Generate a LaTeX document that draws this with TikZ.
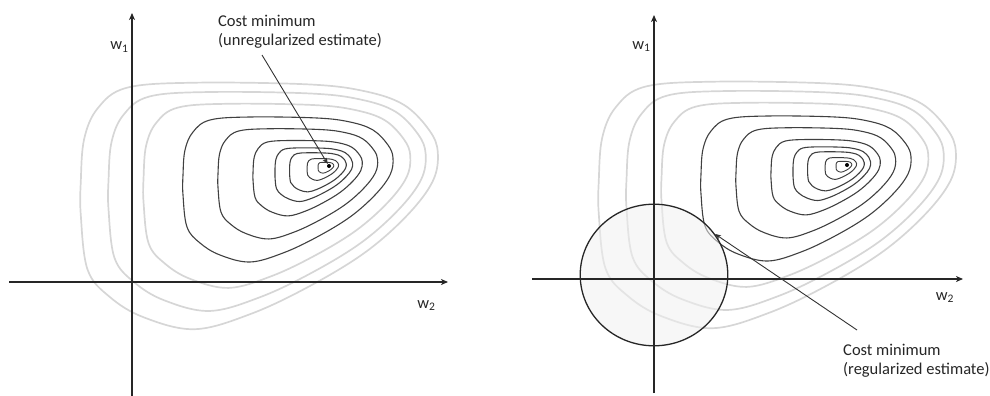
\documentclass[tikz,border=0pt]{standalone}
\usepackage{fontspec}
\setmainfont{Carlito}
\usetikzlibrary{arrows.meta,shapes.geometric}
\begin{document}
\begin{tikzpicture}[x=1pt,y=-1pt,
  axis/.style={draw=black!85, line width=1.2pt, -{Stealth[length=7pt,width=6pt,inset=2pt]}},
  pointer/.style={draw=black!80, line width=0.9pt, -{Stealth[length=6pt,width=4.5pt,inset=1.5pt]}},
  lbl/.style={font=\fontsize{16.5}{19}\selectfont, text=black!85, inner sep=0pt, align=left},
  wlbl/.style={font=\fontsize{16.5}{19}\selectfont, text=black!85, inner sep=0pt, anchor=base},
  mindot/.style={circle, fill=black, inner sep=0pt, minimum size=4pt},
  regball/.style={ellipse, draw=black!85, line width=1.3pt, fill=black!6, fill opacity=0.55, draw opacity=1, inner sep=0pt, minimum width=147.6pt, minimum height=141.6pt},
]
\useasboundingbox (0,0) rectangle (990,396);
% contours for both panels
\foreach \dx/\dy in {329/166, 847/165}{
  \foreach \s/\col/\lw in {1.7/black!16/1.7pt, 1.51/black!16/1.7pt, 1.27/black!16/1.7pt,
                           1/black!75/1.1pt, 0.76/black!75/1.1pt, 0.52/black!75/1.1pt,
                           0.37/black!75/1.1pt, 0.27/black!75/1.1pt, 0.15/black!75/1.0pt,
                           0.075/black!75/0.9pt}{
    \draw[draw=\col, line width=\lw, shift={(\dx,\dy)}, scale=\s]
      plot[smooth cycle, tension=0.6] coordinates {
        (-146,29) (-142,61) (-129,77) (-109,89) (-79,96) (-46,87) (-12,71)
        (21,51) (46,29) (61,9) (64,-8) (59,-21) (44,-36) (21,-44) (-12,-48)
        (-79,-49) (-119,-46) (-136,-34) (-144,-16) (-146,9)};
  }
}
% regularization region
\node[regball] (reg) at (654,275) {};
% axes
\coordinate (xl1) at (9,282);
\coordinate (xr1) at (448,282);
\coordinate (yb1) at (132,396);
\coordinate (yt1) at (132,13);
\coordinate (xl2) at (532,279);
\coordinate (xr2) at (963,279);
\coordinate (yb2) at (654,393);
\coordinate (yt2) at (654,15);
\draw[axis] (xl1) -- (xr1);
\draw[axis] (yb1) -- (yt1);
\draw[axis] (xl2) -- (xr2);
\draw[axis] (yb2) -- (yt2);
% axis labels
\node[wlbl] (w1a) at (119.5,50) {w\textsubscript{1}};
\node[wlbl] (w2a) at (426.5,308) {w\textsubscript{2}};
\node[wlbl] (w1b) at (641.5,49) {w\textsubscript{1}};
\node[wlbl] (w2b) at (945,300) {w\textsubscript{2}};
% minima
\node[mindot] (m1) at (329,166) {};
\node[mindot] (m2) at (847,165) {};
% annotations
\node[lbl, anchor=north west] (t1) at (218,15) {Cost minimum\\(unregularized estimate)};
\coordinate (p1) at (262,55);
\draw[pointer] (p1) -- (m1);
\node[lbl, anchor=north west] (t2) at (843,344) {Cost minimum\\(regularized estimate)};
\coordinate (p2) at (857,330);
\draw[pointer] (p2) -- (reg.34.5);
\end{tikzpicture}
\end{document}
